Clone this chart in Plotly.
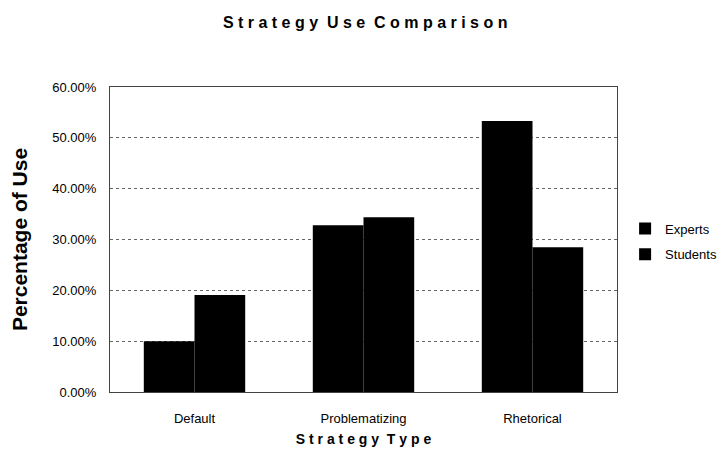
import plotly.graph_objects as go

categories = ["Default", "Problematizing", "Rhetorical"]
experts = [0.100, 0.328, 0.533]
students = [0.191, 0.344, 0.285]
series_names = ["Experts", "Students"]
y_ticks = [0, 0.1, 0.2, 0.3, 0.4, 0.5, 0.6]
y_tick_labels = ["0.00%", "10.00%", "20.00%", "30.00%", "40.00%", "50.00%", "60.00%"]

fig = go.Figure()
for i, (name, vals) in enumerate(zip(series_names, [experts, students])):
    fig.add_trace(go.Bar(x=categories, y=vals, name=name, legendgroup=f"g{i}",
                         marker=dict(color="black", line=dict(color="black", width=0))))

fig.update_layout(
    width=726, height=449,
    margin=dict(l=102, r=117, t=79, b=65),
    paper_bgcolor="white", plot_bgcolor="white",
    font=dict(family="Liberation Sans, Arial, sans-serif", color="black", size=13),
    title=dict(text="<b>S t r a t e g y  U s e  C o m p a r i s o n</b>", x=0.492, xanchor="center",
               y=0.968, yanchor="middle", font=dict(size=16)),
    barmode="group", bargap=0.4, bargroupgap=0,
    legend=dict(xref="container", yref="container", x=0.85, y=0.48,
                xanchor="left", yanchor="middle", bgcolor="rgba(0,0,0,0)",
                font=dict(size=13), itemwidth=30, traceorder="grouped", tracegroupgap=6),
    showlegend=True,
)
fig.update_xaxes(showline=True, linecolor="#444", linewidth=1, mirror=True,
                 automargin=False, ticks="", ticklabelstandoff=14, tickfont=dict(size=13),
                 title=dict(text="<b>S t r a t e g y  T y p e</b>", font=dict(size=14), standoff=9))
fig.update_yaxes(range=[0, 0.6], tickvals=y_ticks, ticktext=y_tick_labels,
                 showline=True, linecolor="#444", linewidth=1, mirror=True,
                 automargin=False, ticklabelstandoff=10,
                 showgrid=True, gridcolor="#666", griddash="dot", gridwidth=1,
                 ticks="", tickfont=dict(size=13),
                 title=dict(text="<b>Percentage of Use</b>", font=dict(size=21), standoff=20))

fig.write_html("out.html")
